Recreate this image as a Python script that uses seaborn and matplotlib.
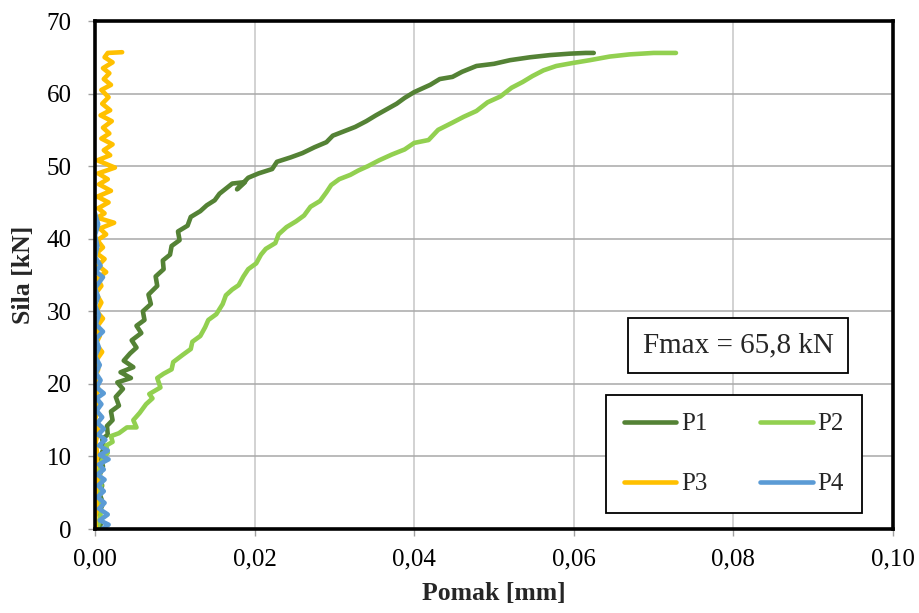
import matplotlib
matplotlib.use("Agg")
import matplotlib.pyplot as plt
from matplotlib.ticker import FixedLocator, FuncFormatter
import seaborn as sns

# Force-displacement records (displacement in mm, force in kN)
P1_x = [0.0004, 0.0009, 0.0005, 0.0010, 0.0006, 0.0009, 0.0005, 0.0010, 0.0007, 0.0011,
        0.0009, 0.0016, 0.0015, 0.0022, 0.0020, 0.0030, 0.0026, 0.0035, 0.0028, 0.0045,
        0.0032, 0.0048, 0.0036, 0.0044, 0.0052, 0.0046, 0.0058, 0.0052, 0.0062, 0.0060,
        0.0070, 0.0067, 0.0078, 0.0076, 0.0086, 0.0085, 0.0094, 0.0096, 0.0106, 0.0104,
        0.0116, 0.0120, 0.0132, 0.0140, 0.0150, 0.0156, 0.0172, 0.0188, 0.0178, 0.0192,
        0.0205, 0.0222, 0.0228, 0.0245, 0.0260, 0.0275, 0.0290, 0.0298, 0.0312, 0.0326,
        0.0340, 0.0352, 0.0365, 0.0378, 0.0388, 0.0400, 0.0420, 0.0432, 0.0448, 0.0460,
        0.0478, 0.0500, 0.0520, 0.0545, 0.0570, 0.0595, 0.0615, 0.0625]
P1_F = [0.0, 1.0, 2.2, 3.5, 4.8, 6.0, 7.2, 8.6, 10.0, 11.2,
        12.4, 13.0, 14.2, 15.0, 16.2, 17.0, 18.2, 19.3, 20.2, 20.8,
        21.6, 22.3, 23.2, 24.2, 25.0, 26.0, 27.0, 28.0, 28.8, 30.0,
        31.0, 32.3, 33.5, 34.8, 35.8, 37.0, 37.8, 39.0, 39.8, 41.0,
        41.8, 43.0, 43.8, 44.6, 45.3, 46.2, 47.6, 47.8, 46.8, 48.4,
        49.0, 49.6, 50.6, 51.2, 51.8, 52.6, 53.3, 54.2, 54.8, 55.4,
        56.2, 57.0, 57.8, 58.6, 59.4, 60.2, 61.2, 62.0, 62.3, 63.0,
        63.8, 64.1, 64.6, 65.0, 65.3, 65.5, 65.6, 65.6]

P2_x = [0.0003, 0.0007, 0.0004, 0.0008, 0.0005, 0.0010, 0.0016, 0.0014, 0.0022, 0.0020,
        0.0030, 0.0035, 0.0040, 0.0052, 0.0048, 0.0056, 0.0064, 0.0072, 0.0068, 0.0082,
        0.0078, 0.0086, 0.0096, 0.0098, 0.0110, 0.0120, 0.0122, 0.0132, 0.0138, 0.0142,
        0.0152, 0.0160, 0.0164, 0.0172, 0.0180, 0.0186, 0.0192, 0.0202, 0.0208, 0.0214,
        0.0226, 0.0230, 0.0240, 0.0252, 0.0262, 0.0270, 0.0282, 0.0290, 0.0296, 0.0306,
        0.0320, 0.0330, 0.0342, 0.0356, 0.0372, 0.0388, 0.0400, 0.0418, 0.0430, 0.0448,
        0.0462, 0.0478, 0.0492, 0.0508, 0.0522, 0.0536, 0.0548, 0.0562, 0.0578, 0.0598,
        0.0620, 0.0645, 0.0670, 0.0700, 0.0728]
P2_F = [0.0, 2.0, 4.0, 6.0, 8.0, 9.8, 10.5, 11.5, 12.0, 12.8,
        13.2, 13.6, 14.0, 14.0, 15.0, 16.0, 17.2, 18.0, 18.6, 19.5,
        20.8, 21.4, 22.0, 23.0, 24.0, 24.8, 25.8, 26.6, 27.8, 28.8,
        29.6, 31.0, 32.2, 33.0, 33.6, 34.8, 35.8, 36.6, 37.8, 38.6,
        39.4, 40.6, 41.6, 42.4, 43.2, 44.4, 45.2, 46.4, 47.4, 48.2,
        48.8, 49.4, 50.0, 50.8, 51.6, 52.3, 53.2, 53.6, 55.0, 56.0,
        56.8, 57.6, 58.8, 59.6, 60.8, 61.6, 62.4, 63.2, 63.8, 64.2,
        64.6, 65.1, 65.4, 65.6, 65.6]

P3_x = [0.0001, 0.0000, 0.0003, 0.0000, 0.0003, 0.0000, 0.0003, 0.0001, 0.0004, 0.0000,
        0.0003, 0.0001, 0.0004, 0.0000, 0.0004, 0.0002, 0.0009, 0.0001, 0.0006, 0.0002,
        0.0010, 0.0002, 0.0008, 0.0001, 0.0008, 0.0003, 0.0014, 0.0004, 0.0012, 0.0002,
        0.0010, 0.0003, 0.0014, 0.0006, 0.0024, 0.0003, 0.0012, 0.0004, 0.0017, 0.0003,
        0.0020, 0.0005, 0.0016, 0.0004, 0.0025, 0.0003, 0.0019, 0.0011, 0.0022, 0.0008,
        0.0018, 0.0010, 0.0021, 0.0007, 0.0019, 0.0009, 0.0017, 0.0008, 0.0020, 0.0011,
        0.0018, 0.0010, 0.0022, 0.0012, 0.0016, 0.0034]
P3_F = [0.0, 1.5, 3.0, 4.5, 6.5, 8.0, 10.0, 12.0, 13.5, 15.0,
        16.5, 18.0, 19.4, 20.8, 22.0, 23.3, 24.4, 25.5, 26.6, 27.8,
        29.0, 30.0, 31.2, 32.5, 33.5, 34.6, 35.4, 36.3, 37.2, 38.0,
        38.8, 39.8, 40.6, 41.4, 42.2, 42.9, 43.5, 44.2, 45.0, 45.8,
        46.6, 47.5, 48.2, 49.0, 49.8, 50.8, 51.5, 52.2, 53.0, 53.8,
        54.5, 55.3, 56.2, 57.0, 57.7, 58.6, 59.5, 60.5, 61.2, 62.0,
        62.8, 63.5, 64.3, 65.0, 65.6, 65.7]

P4_x = [0.0009, 0.0017, 0.0006, 0.0016, 0.0005, 0.0012, 0.0003, 0.0011, 0.0004, 0.0012,
        0.0003, 0.0011, 0.0005, 0.0017, 0.0006, 0.0016, 0.0005, 0.0013, 0.0004, 0.0011,
        0.0003, 0.0009, 0.0002, 0.0008, 0.0002, 0.0011, 0.0002, 0.0007, 0.0001, 0.0006,
        0.0000, 0.0005, 0.0001, 0.0010, 0.0001, 0.0005, 0.0000, 0.0004, 0.0000, 0.0010,
        0.0001, 0.0007, 0.0000, 0.0003, 0.0000, 0.0004, 0.0000]
P4_F = [0.0, 0.6, 1.2, 2.0, 2.8, 3.6, 4.4, 5.2, 6.0, 6.8,
        7.5, 8.2, 8.9, 9.6, 10.2, 10.8, 11.5, 12.3, 13.0, 13.8,
        14.6, 15.4, 16.3, 17.2, 18.0, 18.7, 19.5, 20.5, 21.5, 22.6,
        23.8, 25.0, 26.2, 27.2, 28.2, 29.5, 30.8, 32.0, 33.2, 34.7,
        35.5, 36.3, 37.5, 39.0, 40.5, 42.0, 43.5]

series_names = ["P1", "P2", "P3", "P4"]
series_colors = ["#548235", "#92D050", "#FFC000", "#5B9BD5"]

x_ticks = [0.00, 0.02, 0.04, 0.06, 0.08, 0.10]
y_ticks = [0, 10, 20, 30, 40, 50, 60, 70]
x_label = "Pomak [mm]"
y_label = "Sila [kN]"
note_text = "Fmax = 65,8 kN"

sns.set_theme(style="white")
plt.rcParams["font.family"] = ["Liberation Serif", "DejaVu Serif"]

W, H = 920, 613
fig = plt.figure(figsize=(W / 100, H / 100), dpi=100)
ax = fig.add_axes([95 / W, 1 - 529 / H, 798 / W, 508 / H])

data = [(P1_x, P1_F), (P2_x, P2_F), (P3_x, P3_F), (P4_x, P4_F)]
for (xs, fs), name, col in zip(data, series_names, series_colors):
    sns.lineplot(x=xs, y=fs, sort=False, estimator=None, color=col, linewidth=3.3,
                 label=name, ax=ax, solid_joinstyle="round", solid_capstyle="round")

ax.set_xlim(x_ticks[0], x_ticks[-1])
ax.set_ylim(y_ticks[0], y_ticks[-1])
ax.xaxis.set_major_locator(FixedLocator(x_ticks))
ax.yaxis.set_major_locator(FixedLocator(y_ticks))
ax.xaxis.set_major_formatter(FuncFormatter(lambda v, p: f"{v:.2f}".replace(".", ",")))
ax.yaxis.set_major_formatter(FuncFormatter(lambda v, p: f"{v:.0f}"))

ax.set_axisbelow(True)
ax.xaxis.grid(True, color="#c6c6c6", linewidth=1.1)
ax.yaxis.grid(True, color="#a8a8a8", linewidth=1.1)

for s in ax.spines.values():
    s.set_visible(True)
    s.set_color("black")
    s.set_linewidth(2.6)

ax.tick_params(axis="both", direction="out", length=5, width=1.0, color="#a0a0a0",
               labelsize=18, labelcolor="black")
ax.tick_params(axis="x", pad=9, bottom=True)
ax.tick_params(axis="y", pad=12, left=True)

ax.set_xlabel(x_label, fontsize=18.5, fontweight="bold", labelpad=8)
ax.set_ylabel(y_label, fontsize=18.5, fontweight="bold", labelpad=8)

ax.text(0.806, 0.362, note_text, transform=ax.transAxes, ha="center", va="center",
        fontsize=21,
        bbox=dict(boxstyle="square,pad=0.5", facecolor="white", edgecolor="black",
                  linewidth=1.3))

# Row-wise legend: P1 P2 on the first row, P3 P4 on the second
handles, labels = ax.get_legend_handles_labels()
order = [0, 2, 1, 3]
leg = ax.legend([handles[i] for i in order], [labels[i] for i in order],
                loc="lower left", bbox_to_anchor=(0.640, 0.031), ncol=2,
                fontsize=18, frameon=True, fancybox=False, framealpha=1,
                edgecolor="black", borderpad=0.72, labelspacing=1.5,
                handlelength=2.1, handletextpad=0.2, columnspacing=2.1,
                borderaxespad=0)
leg.get_frame().set_linewidth(1.3)
for h in leg.get_lines():
    h.set_linewidth(3.3)

fig.savefig("out.png", dpi=100)
